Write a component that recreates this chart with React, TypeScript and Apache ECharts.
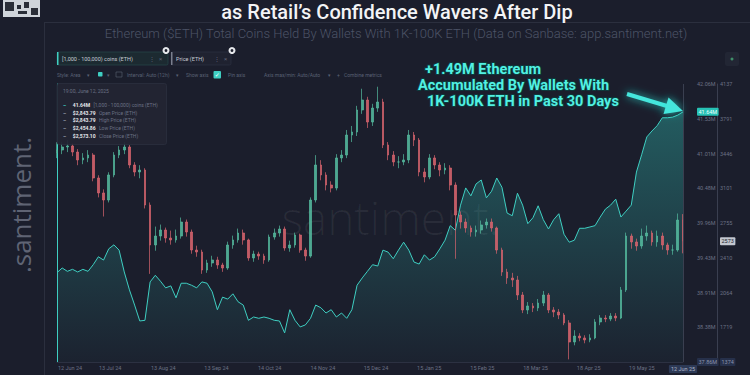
import React, { useEffect, useRef } from 'react';
import * as echarts from 'echarts';

// ---------- DATA ----------
const totalDays = 365; // 12 Jun 24 -> 12 Jun 25

// Total coins held by 1K-100K ETH wallets (millions), ~3-day steps
const coins = [
  39.21, 39.28, 39.23, 39.26, 39.22, 39.26, 39.23, 39.33, 39.45, 39.40,
  39.57, 39.63, 39.55, 39.22, 38.95, 38.72, 38.48, 38.49, 39.07, 39.17,
  39.08, 38.98, 39.01, 38.83, 39.05, 39.05, 39.02, 38.98, 39.07, 39.05,
  38.92, 38.65, 38.84, 38.81, 38.89, 38.77, 38.72, 38.49, 38.54, 38.52,
  38.54, 38.52, 38.49, 38.48, 38.30, 38.65, 38.49, 38.39, 38.42, 38.52,
  38.72, 38.68, 38.60, 38.65, 38.54, 38.60, 38.52, 38.65, 39.02, 39.13,
  39.23, 39.33, 39.31, 39.55, 39.52, 39.42, 39.55, 39.67, 39.55, 39.37,
  39.34, 39.48, 39.40, 39.45, 39.57, 39.70, 39.92, 39.85, 40.23, 40.49,
  40.37, 40.55, 40.61, 40.34, 40.44, 40.64, 40.50, 40.11, 40.07, 40.41,
  40.23, 39.95, 40.04, 40.22, 40.01, 39.87, 40.01, 40.10, 39.79, 39.67,
  39.70, 39.88, 39.88, 39.90, 39.92, 40.05, 40.17, 40.23, 40.32, 40.05,
  40.14, 40.23, 40.73, 40.99, 41.26, 41.35, 41.43, 41.55, 41.55, 41.56,
  41.59, 41.64,
];

// ETH price candles: [open, close, low, high]
const priceOHLC = [
  [3450, 3481, 3400, 3560], [3481, 3511, 3440, 3560], [3511, 3521, 3460, 3580], [3521, 3461, 3420, 3550],
  [3461, 3382, 3330, 3490], [3382, 3402, 3340, 3450], [3402, 3431, 3360, 3480], [3431, 3203, 3170, 3450],
  [3203, 3054, 3010, 3230], [3054, 2984, 2820, 3090], [2984, 3233, 2960, 3260], [3233, 3431, 3210, 3460],
  [3431, 3481, 3400, 3520], [3481, 3511, 3440, 3560], [3511, 3332, 3300, 3530], [3332, 3262, 3220, 3360],
  [3262, 3282, 3200, 3330], [3282, 2934, 2900, 3300], [2934, 2537, 2250, 2960], [2537, 2626, 2480, 2720],
  [2626, 2686, 2580, 2740], [2686, 2606, 2560, 2710], [2606, 2587, 2540, 2680], [2587, 2626, 2560, 2690],
  [2626, 2765, 2600, 2810], [2765, 2666, 2620, 2790], [2666, 2487, 2450, 2690], [2487, 2467, 2420, 2530],
  [2467, 2288, 2250, 2490], [2288, 2358, 2260, 2390], [2358, 2388, 2320, 2430], [2388, 2338, 2300, 2420],
  [2338, 2308, 2270, 2360], [2308, 2537, 2290, 2570], [2537, 2587, 2500, 2630], [2587, 2656, 2560, 2700],
  [2656, 2587, 2540, 2690], [2587, 2408, 2380, 2600], [2408, 2447, 2370, 2480], [2447, 2427, 2390, 2470],
  [2427, 2388, 2350, 2450], [2388, 2616, 2370, 2640], [2616, 2656, 2590, 2700], [2656, 2696, 2620, 2730],
  [2696, 2507, 2480, 2720], [2507, 2537, 2470, 2580], [2537, 2636, 2510, 2660], [2636, 2487, 2460, 2650],
  [2487, 2427, 2380, 2510], [2427, 2984, 2410, 3010], [2984, 3332, 2960, 3430], [3332, 3233, 3180, 3380],
  [3233, 3133, 3080, 3260], [3133, 3103, 3060, 3170], [3103, 3402, 3080, 3440], [3402, 3431, 3360, 3480],
  [3431, 3630, 3400, 3680], [3630, 3660, 3560, 3720], [3660, 3879, 3620, 3920], [3879, 3978, 3840, 4090],
  [3978, 3759, 3700, 4010], [3759, 3898, 3720, 3940], [3898, 3958, 3860, 4110], [3958, 3531, 3500, 3990],
  [3531, 3431, 3380, 3560], [3431, 3362, 3320, 3470], [3362, 3362, 3300, 3420], [3362, 3382, 3330, 3440],
  [3382, 3630, 3350, 3680], [3630, 3580, 3520, 3660], [3580, 3262, 3220, 3600], [3262, 3213, 3160, 3300],
  [3213, 3402, 3190, 3440], [3402, 3332, 3290, 3430], [3332, 3282, 3220, 3360], [3282, 3302, 3240, 3350],
  [3302, 3133, 3080, 3330], [3133, 2835, 2400, 3160], [2835, 2765, 2700, 2870], [2765, 2706, 2660, 2800],
  [2706, 2666, 2620, 2730], [2666, 2686, 2620, 2730], [2686, 2736, 2650, 2780], [2736, 2765, 2700, 2800],
  [2765, 2706, 2670, 2800], [2706, 2487, 2450, 2720], [2487, 2268, 2230, 2510], [2268, 2209, 2150, 2300],
  [2209, 2189, 2120, 2260], [2189, 2040, 1990, 2230], [2040, 1891, 1860, 2070], [1891, 1931, 1850, 1970],
  [1931, 1911, 1870, 1960], [1911, 1960, 1880, 2000], [1960, 2040, 1930, 2080], [2040, 1891, 1860, 2060],
  [1891, 1871, 1820, 1920], [1871, 1841, 1800, 1900], [1841, 1762, 1740, 1860], [1762, 1573, 1400, 1790],
  [1573, 1632, 1540, 1690], [1632, 1613, 1580, 1660], [1613, 1593, 1560, 1640], [1593, 1613, 1570, 1650],
  [1613, 1772, 1600, 1800], [1772, 1811, 1740, 1840], [1811, 1801, 1770, 1840], [1801, 1831, 1780, 1860],
  [1831, 1811, 1780, 1860], [1811, 2090, 1800, 2120], [2090, 2626, 2070, 2660], [2626, 2567, 2500, 2650],
  [2567, 2527, 2480, 2600], [2527, 2626, 2500, 2700], [2626, 2656, 2580, 2730], [2656, 2567, 2530, 2680],
  [2567, 2626, 2520, 2680], [2626, 2537, 2490, 2660], [2537, 2487, 2440, 2560], [2487, 2487, 2440, 2540],
  [2487, 2785, 2470, 2850], [2785, 2573, 2454, 2844],
];

const coinTickValues = [37.86, 38.385, 38.91, 39.435, 39.96, 40.485, 41.01, 41.535, 42.06];
const coinTickLabels = ['37.86M', '38.38M', '38.91M', '39.43M', '39.96M', '40.48M', '41.01M', '41.53M', '42.06M'];
const priceTickValues = [1374, 1719.375, 2064.75, 2410.125, 2755.5, 3100.875, 3446.25, 3791.625, 4137];
const priceTickLabels = ['1374', '1719', '2064', '2410', '2755', '3101', '3446', '3791', '4137'];
const dateTickDays = [0, 31, 62, 93, 124, 155, 186, 217, 248, 279, 310, 341, 365];
const dateTickLabels = ['12 Jun 24', '13 Jul 24', '13 Aug 24', '13 Sep 24', '14 Oct 24', '14 Nov 24', '15 Dec 24',
  '15 Jan 25', '15 Feb 25', '18 Mar 25', '18 Apr 25', '19 May 25', '12 Jun 25'];

const tooltipRows = [
  ['41.64M', '[1,000 - 100,000) coins (ETH)'],
  ['$2,843.79', 'Open Price (ETH)'],
  ['$2,843.79', 'High Price (ETH)'],
  ['$2,454.86', 'Low Price (ETH)'],
  ['$2,573.10', 'Close Price (ETH)'],
];

// ---------- CHART ----------
const BG = '#1b1e2c';
const TEAL = '#3fcfc2';
const GRAY = '#6b7184';

export default function App() {
  const ref = useRef<HTMLDivElement>(null);
  useEffect(() => {
    if (!ref.current) return;
    const chart = echarts.init(ref.current, undefined, { renderer: 'svg' });
    const n = coins.length;
    const dayOf = (i: number) => (i * totalDays) / (n - 1);
    const coinData = coins.map((c, i) => [dayOf(i), c]);
    const candleData = priceOHLC.map((p, i) => [dayOf(i), p[0], p[1], p[2], p[3]]);
    const lastCoin = coins[n - 1];
    const lastPrice = priceOHLC[n - 1][1];

    const small = { fontSize: 5.5, color: GRAY, fontFamily: 'Roboto' };
    const tb = (text: string, x: number, y = 74.5, fill = '#5a6174') => ({
      type: 'text', x, y, style: { text, fill, font: '5px Roboto', verticalAlign: 'middle' },
    });

    const graphic: any[] = [
      // QR code stub
      { type: 'rect', shape: { x: 3, y: 0, width: 37, height: 17 }, style: { fill: '#cfd4da' } },
      { type: 'rect', shape: { x: 5, y: 2, width: 9, height: 9 }, style: { fill: '#2a2e38' } },
      { type: 'rect', shape: { x: 17, y: 5, width: 4, height: 4 }, style: { fill: '#2a2e38' } },
      { type: 'rect', shape: { x: 24, y: 2, width: 5, height: 6 }, style: { fill: '#2a2e38' } },
      { type: 'rect', shape: { x: 31, y: 8, width: 7, height: 7 }, style: { fill: '#2a2e38' } },
      { type: 'rect', shape: { x: 18, y: 11, width: 9, height: 3 }, style: { fill: '#2a2e38' } },
      // frame lines
      { type: 'line', shape: { x1: 44.5, y1: 22, x2: 44.5, y2: 375 }, style: { stroke: '#2b2f3e', lineWidth: 1 } },
      { type: 'line', shape: { x1: 44, y1: 22.5, x2: 750, y2: 22.5 }, style: { stroke: '#2b2f3e', lineWidth: 1 } },
      // title & subtitle
      { type: 'text', x: 397, y: 11.5, style: { text: 'as Retail’s Confidence Wavers After Dip', fill: '#f3f4f6', font: '500 20px Roboto', align: 'center', verticalAlign: 'middle' } },
      { type: 'text', x: 396, y: 33, style: { text: 'Ethereum ($ETH) Total Coins Held By Wallets With 1K-100K ETH (Data on Sanbase: app.santiment.net)', fill: '#4d5467', font: '300 13px Roboto', align: 'center', verticalAlign: 'middle' } },
      // watermarks
      { type: 'text', x: 21, y: 205, rotation: Math.PI / 2, style: { text: '.santiment.', fill: '#5f6474', font: '400 26px "Open Sans"', align: 'center', verticalAlign: 'middle' } },
      { type: 'text', x: 385, y: 217, z: -1, style: { text: '.santiment.', fill: 'rgba(255,255,255,0.06)', font: '300 46px "Open Sans"', align: 'center', verticalAlign: 'middle' } },
      // metric chips
      { type: 'rect', shape: { x: 57, y: 52, width: 111, height: 13, r: 1.5 }, style: { fill: '#1c2a31', stroke: '#27474b', lineWidth: 0.7 } },
      { type: 'rect', shape: { x: 57, y: 52, width: 1.5, height: 13 }, style: { fill: TEAL } },
      { type: 'text', x: 62, y: 58.5, style: { text: '[1,000 - 100,000) coins (ETH)', fill: '#c5cad3', font: '5.5px Roboto', verticalAlign: 'middle' } },
      { type: 'text', x: 149, y: 58.5, style: { text: '⋮', fill: '#5f6577', font: '6px Roboto', verticalAlign: 'middle' } },
      { type: 'text', x: 159, y: 58.5, style: { text: '×', fill: '#5f6577', font: '6px Roboto', verticalAlign: 'middle' } },
      { type: 'circle', shape: { cx: 166, cy: 50.5, r: 3.5 }, style: { fill: '#e6e8ec' } },
      { type: 'circle', shape: { cx: 166, cy: 50.5, r: 1.4 }, style: { fill: BG } },
      { type: 'rect', shape: { x: 171, y: 52, width: 60, height: 13, r: 1.5 }, style: { fill: '#1f2230', stroke: '#2d3142', lineWidth: 0.7 } },
      { type: 'rect', shape: { x: 171, y: 52, width: 1.5, height: 13 }, style: { fill: '#7a7f8e' } },
      { type: 'text', x: 176, y: 58.5, style: { text: 'Price (ETH)', fill: '#c5cad3', font: '5.5px Roboto', verticalAlign: 'middle' } },
      { type: 'text', x: 214, y: 58.5, style: { text: '⋮', fill: '#5f6577', font: '6px Roboto', verticalAlign: 'middle' } },
      { type: 'text', x: 224, y: 58.5, style: { text: '×', fill: '#5f6577', font: '6px Roboto', verticalAlign: 'middle' } },
      { type: 'circle', shape: { cx: 232, cy: 50.5, r: 3.5 }, style: { fill: '#e6e8ec' } },
      { type: 'circle', shape: { cx: 232, cy: 50.5, r: 1.4 }, style: { fill: BG } },
      // toolbar
      tb('Style: Area', 57), tb('▾', 87),
      { type: 'rect', shape: { x: 98, y: 72, width: 4.5, height: 4.5, r: 0.8 }, style: { fill: TEAL } },
      tb('▾', 107),
      { type: 'rect', shape: { x: 116, y: 72, width: 6, height: 5 }, style: { fill: 'none', stroke: '#5a6174', lineWidth: 0.6 } },
      tb('Interval: Auto (12h)', 127), tb('▾', 176), tb('Show axis', 186),
      { type: 'rect', shape: { x: 213.5, y: 71, width: 7.5, height: 7.5, r: 1 }, style: { fill: TEAL } },
      { type: 'text', x: 217.2, y: 74.8, style: { text: '✓', fill: '#ffffff', font: '6px "DejaVu Sans"', align: 'center', verticalAlign: 'middle' } },
      tb('Pin axis', 228), tb('Axis max/min: Auto/Auto', 264), tb('▾', 328), tb('+', 337), tb('Combine metrics', 344),
      // top-right icon
      { type: 'rect', shape: { x: 725, y: 52, width: 14, height: 14, r: 2 }, style: { fill: '#222634' } },
      { type: 'circle', shape: { cx: 732, cy: 59, r: 1.5 }, style: { fill: '#3f8f6a' } },
      // tooltip box
      { type: 'rect', z: 50, shape: { x: 57, y: 83.5, width: 109.5, height: 61, r: 2 }, style: { fill: 'rgba(34,37,51,0.93)', stroke: '#2c3041', lineWidth: 0.7 } },
      { type: 'text', z: 51, x: 63, y: 90.5, style: { text: '19:00, June 12, 2025', fill: '#6b7184', font: '5px Roboto', verticalAlign: 'middle' } },
      ...tooltipRows.map((r, i) => ({
        type: 'text', z: 51, x: 63, y: 105 + i * 7.7,
        style: {
          text: `{d|–}  {v|${r[0]}} {l|${r[1]}}`,
          verticalAlign: 'middle',
          rich: {
            d: { fill: i === 0 ? TEAL : '#9aa0ae', font: 'bold 5px Roboto' },
            v: { fill: '#e4e6ea', font: 'bold 5px Roboto' },
            l: { fill: '#6b7184', font: '5px Roboto' },
          },
        },
      })),
      // annotation
      ...[
        ['+1.49M Ethereum', 425, 69],
        ['Accumulated By Wallets With', 418, 85],
        ['1K-100K ETH in Past 30 Days', 427, 101],
      ].map(([t, x, y]) => ({
        type: 'text', z: 60, x, y,
        style: {
          text: t, fill: '#52f0e2', font: 'bold 14.5px Roboto', verticalAlign: 'middle',
          stroke: '#0d3a3d', lineWidth: 2,
          shadowBlur: 12, shadowColor: 'rgba(40,230,215,0.85)',
        },
      })),
      { type: 'line', z: 60, shape: { x1: 627, y1: 94, x2: 667, y2: 106 }, style: { stroke: '#45e6dc', lineWidth: 4, shadowBlur: 8, shadowColor: 'rgba(40,230,215,0.8)' } },
      { type: 'polygon', z: 60, shape: { points: [[683, 111], [663.5, 114], [668.5, 97.5]] }, style: { fill: '#45e6dc', shadowBlur: 8, shadowColor: 'rgba(40,230,215,0.8)' } },
    ];

    const option: any = {
      animation: false,
      backgroundColor: BG,
      textStyle: { fontFamily: 'Roboto' },
      grid: { left: 57, right: 67, top: 84, bottom: 13, containLabel: false },
      xAxis: {
        type: 'value', min: 0, max: totalDays,
        axisLine: { show: true, lineStyle: { color: '#2c3142' } },
        axisTick: { show: false },
        splitLine: { show: false },
        axisLabel: {
          customValues: dateTickDays,
          margin: 3,
          ...small,
          formatter: (v: number) => {
            const k = dateTickDays.indexOf(v);
            const lab = k >= 0 ? dateTickLabels[k] : '';
            if (k === 0) return `{first|${lab}}`;
            if (k === dateTickDays.length - 1) return `{badge|${lab}}`;
            return lab;
          },
          rich: {
            first: { ...small, padding: [0, 0, 0, 26] },
            badge: { fontSize: 5.5, color: '#aeb6c8', backgroundColor: '#2c3956', padding: [1, 2], borderRadius: 1 },
          },
        },
      },
      yAxis: [
        {
          type: 'value', position: 'right', offset: 11, min: coinTickValues[0], max: coinTickValues[coinTickValues.length - 1],
          axisLine: { show: true, lineStyle: { color: TEAL, width: 1 } },
          axisTick: { show: false }, splitLine: { show: false },
          axisLabel: {
            customValues: [...coinTickValues, lastCoin], margin: 3, ...small,
            formatter: (v: number) => {
              if (v === lastCoin) return `{badge|${lastCoin.toFixed(2)}M}`;
              const k = coinTickValues.indexOf(v);
              if (k === 0) return `{minb|${coinTickLabels[0]}}`;
              return k >= 0 ? coinTickLabels[k] : '';
            },
            rich: {
              badge: { fontSize: 5.5, color: '#eafffd', backgroundColor: '#27c2b5', padding: [1, 1.5], borderRadius: 1 },
              minb: { fontSize: 5.5, color: '#8a93aa', backgroundColor: '#26304a', padding: [1, 1.5], borderRadius: 1 },
            },
          },
        },
        {
          type: 'value', position: 'right', offset: 34, min: priceTickValues[0], max: priceTickValues[priceTickValues.length - 1],
          axisLine: { show: true, lineStyle: { color: '#3a3f50', width: 1 } },
          axisTick: { show: false }, splitLine: { show: false },
          axisLabel: {
            customValues: [...priceTickValues, lastPrice], margin: 3, ...small,
            formatter: (v: number) => {
              if (v === lastPrice) return `{badge|${lastPrice}}`;
              const k = priceTickValues.indexOf(v);
              if (k === 0) return `{minb|${priceTickLabels[0]}}`;
              return k >= 0 ? priceTickLabels[k] : '';
            },
            rich: {
              badge: { fontSize: 5.5, color: '#1b1e2c', backgroundColor: '#c3c7cf', padding: [1, 1.5], borderRadius: 1 },
              minb: { fontSize: 5.5, color: '#8a93aa', backgroundColor: '#26304a', padding: [1, 1.5], borderRadius: 1 },
            },
          },
        },
      ],
      series: [
        {
          type: 'line', yAxisIndex: 0, data: coinData, showSymbol: false, z: 2,
          lineStyle: { color: TEAL, width: 1 },
          itemStyle: { color: TEAL },
          areaStyle: {
            color: new echarts.graphic.LinearGradient(0, 0, 0, 1, [
              { offset: 0, color: 'rgba(48,190,178,0.55)' },
              { offset: 1, color: 'rgba(48,190,178,0.04)' },
            ]),
          },
          markLine: {
            silent: true, symbol: 'none', label: { show: false },
            lineStyle: { color: '#3a3f50', type: 'solid', width: 1 },
            data: [{ xAxis: totalDays }],
          },
        },
        {
          type: 'candlestick', yAxisIndex: 1, data: candleData, z: 3, barMaxWidth: 2.2,
          itemStyle: {
            color: '#55bb9f', color0: '#d9646e', borderColor: '#55bb9f', borderColor0: '#d9646e', borderWidth: 0.8, opacity: 0.88,
          },
        },
      ],
      graphic,
    };
    chart.setOption(option);
    return () => chart.dispose();
  }, []);
  return <div ref={ref} style={{ position: 'fixed', left: 0, top: 0, width: 750, height: 375 }} />;
}
